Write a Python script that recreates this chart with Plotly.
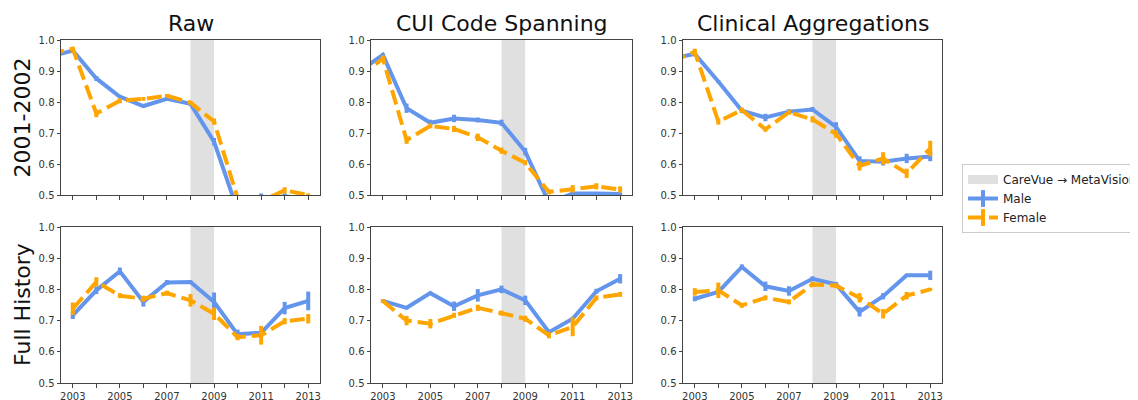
import plotly.graph_objects as go

# ---------------- data ----------------
years_top = [2002, 2003, 2004, 2005, 2006, 2007, 2008, 2009, 2010, 2011, 2012, 2013]
years_bot = [2003, 2004, 2005, 2006, 2007, 2008, 2009, 2010, 2011, 2012, 2013]

col_titles = ["Raw", "CUI Code Spanning", "Clinical Aggregations"]
row_titles = ["2001-2002", "Full History"]
tick_years = [2003, 2004, 2005, 2006, 2007, 2008, 2009, 2010, 2011, 2012, 2013]
tick_text = ["2003", "", "2005", "", "2007", "", "2009", "", "2011", "", "2013"]
y_ticks = [0.5, 0.6, 0.7, 0.8, 0.9, 1.0]
band_start, band_end = 2008, 2009
band_label = "CareVue → MetaVision"

# Top row (2001-2002 cohort)
raw_top_male = [0.945, 0.966, 0.876, 0.817, 0.787, 0.81, 0.794, 0.672, 0.45, 0.49, 0.495, 0.49]
raw_top_male_err = [0.005, 0.005, 0.008, 0.005, 0.005, 0.005, 0.005, 0.012, 0.01, 0.015, 0.01, 0.01]
raw_top_female = [0.955, 0.972, 0.763, 0.804, 0.81, 0.82, 0.798, 0.737, 0.49, 0.48, 0.515, 0.50]
raw_top_female_err = [0.005, 0.005, 0.012, 0.008, 0.006, 0.006, 0.006, 0.01, 0.01, 0.01, 0.01, 0.005]

cui_top_male = [0.898, 0.952, 0.78, 0.733, 0.747, 0.742, 0.733, 0.64, 0.475, 0.505, 0.505, 0.503]
cui_top_male_err = [0.005, 0.005, 0.015, 0.01, 0.012, 0.008, 0.01, 0.012, 0.01, 0.005, 0.005, 0.005]
cui_top_female = [0.88, 0.94, 0.677, 0.723, 0.713, 0.686, 0.643, 0.604, 0.51, 0.52, 0.528, 0.518]
cui_top_female_err = [0.005, 0.01, 0.012, 0.008, 0.01, 0.012, 0.01, 0.008, 0.008, 0.012, 0.01, 0.01]

clin_top_male = [0.94, 0.955, 0.866, 0.772, 0.75, 0.769, 0.776, 0.72, 0.61, 0.607, 0.618, 0.624]
clin_top_male_err = [0.005, 0.005, 0.005, 0.008, 0.012, 0.008, 0.008, 0.015, 0.015, 0.012, 0.015, 0.015]
clin_top_female = [0.93, 0.962, 0.737, 0.774, 0.712, 0.767, 0.744, 0.697, 0.594, 0.618, 0.57, 0.65]
clin_top_female_err = [0.005, 0.01, 0.01, 0.008, 0.008, 0.008, 0.01, 0.012, 0.015, 0.02, 0.015, 0.025]

# Bottom row (full history)
raw_bot_male = [0.717, 0.797, 0.858, 0.76, 0.822, 0.824, 0.76, 0.656, 0.661, 0.74, 0.763]
raw_bot_male_err = [0.012, 0.012, 0.012, 0.015, 0.008, 0.005, 0.03, 0.015, 0.008, 0.02, 0.03]
raw_bot_female = [0.738, 0.824, 0.78, 0.77, 0.788, 0.765, 0.722, 0.647, 0.653, 0.698, 0.706]
raw_bot_female_err = [0.02, 0.015, 0.008, 0.01, 0.008, 0.02, 0.02, 0.01, 0.03, 0.01, 0.015]

cui_bot_male = [0.763, 0.741, 0.788, 0.746, 0.781, 0.8, 0.765, 0.663, 0.706, 0.794, 0.834]
cui_bot_male_err = [0.005, 0.005, 0.005, 0.015, 0.02, 0.012, 0.015, 0.008, 0.005, 0.008, 0.015]
cui_bot_female = [0.763, 0.70, 0.69, 0.717, 0.741, 0.724, 0.706, 0.653, 0.68, 0.773, 0.784]
cui_bot_female_err = [0.005, 0.015, 0.015, 0.008, 0.01, 0.008, 0.01, 0.01, 0.03, 0.008, 0.008]

clin_bot_male = [0.77, 0.792, 0.872, 0.81, 0.795, 0.834, 0.816, 0.728, 0.778, 0.845, 0.845]
clin_bot_male_err = [0.008, 0.005, 0.008, 0.015, 0.015, 0.008, 0.008, 0.015, 0.01, 0.005, 0.015]
clin_bot_female = [0.792, 0.797, 0.749, 0.773, 0.76, 0.816, 0.812, 0.773, 0.722, 0.78, 0.80]
clin_bot_female_err = [0.012, 0.025, 0.008, 0.008, 0.008, 0.008, 0.008, 0.015, 0.015, 0.012, 0.005]

panels = [
    # (row, col, years, male, male_err, female, female_err)
    (0, 0, years_top, raw_top_male, raw_top_male_err, raw_top_female, raw_top_female_err),
    (0, 1, years_top, cui_top_male, cui_top_male_err, cui_top_female, cui_top_female_err),
    (0, 2, years_top, clin_top_male, clin_top_male_err, clin_top_female, clin_top_female_err),
    (1, 0, years_bot, raw_bot_male, raw_bot_male_err, raw_bot_female, raw_bot_female_err),
    (1, 1, years_bot, cui_bot_male, cui_bot_male_err, cui_bot_female, cui_bot_female_err),
    (1, 2, years_bot, clin_bot_male, clin_bot_male_err, clin_bot_female, clin_bot_female_err),
]

# ---------------- styling / layout ----------------
OFF = 8                      # default page body margin in the browser
W, H = 1138 - OFF, 400 - OFF
MALE_C = "#6495ED"
FEMALE_C = "#FFA500"
BAND_C = "#e0e0e0"
AX_C = "#444444"
FONT = "DejaVu Sans"


def px_x(p):
    return (p - OFF) / W


def px_y(p):
    return 1 - (p - OFF) / H


col_px = [(61, 320), (371, 632), (683, 942)]
row_px = [(40, 195), (227, 383)]

fig = go.Figure()
layout = dict(
    width=W, height=H,
    margin=dict(l=0, r=0, t=0, b=0, autoexpand=False),
    paper_bgcolor="white", plot_bgcolor="white",
    font=dict(family=FONT, size=10, color="#333333"),
    showlegend=True,
    legend=dict(x=px_x(962), y=px_y(164), xanchor="left", yanchor="top",
                bgcolor="white", bordercolor="#cccccc", borderwidth=1,
                font=dict(family=FONT, size=12, color="#222222"),
                tracegroupgap=0, itemwidth=30),
)
shapes = []
annotations = []

for i, (r, c, yrs, m, me, f, fe) in enumerate(panels):
    idx = i + 1
    xa = "x" if idx == 1 else f"x{idx}"
    ya = "y" if idx == 1 else f"y{idx}"
    xkey = "xaxis" if idx == 1 else f"xaxis{idx}"
    ykey = "yaxis" if idx == 1 else f"yaxis{idx}"
    x0, x1 = col_px[c]
    yt, yb = row_px[r]
    layout[xkey] = dict(
        domain=[px_x(x0), px_x(x1)], anchor=ya, range=[2002.5, 2013.5],
        tickvals=tick_years, ticktext=tick_text if r == 1 else [""] * len(tick_years),
        ticks="outside", ticklen=3.5, tickwidth=1, tickcolor=AX_C,
        showline=True, linecolor=AX_C, linewidth=1, mirror=True,
        showgrid=False, zeroline=False, tickfont=dict(size=10, color="#333333"),
    )
    layout[ykey] = dict(
        domain=[px_y(yb), px_y(yt)], anchor=xa, range=[0.5, 1.0],
        tickvals=y_ticks, tickformat=".1f",
        ticks="outside", ticklen=3.5, tickwidth=1, tickcolor=AX_C,
        showline=True, linecolor=AX_C, linewidth=1, mirror=True,
        showgrid=False, zeroline=False, tickfont=dict(size=10, color="#333333"),
    )
    shapes.append(dict(type="rect", xref=xa, yref=f"{ya} domain",
                       x0=band_start, x1=band_end, y0=0, y1=1,
                       fillcolor=BAND_C, line=dict(width=0), layer="below"))
    fig.add_trace(go.Scatter(
        x=yrs, y=m, mode="lines", xaxis=xa, yaxis=ya, showlegend=False,
        line=dict(color=MALE_C, width=4),
        error_y=dict(type="data", array=me, color=MALE_C, thickness=4, width=0),
    ))
    fig.add_trace(go.Scatter(
        x=yrs, y=f, mode="lines", xaxis=xa, yaxis=ya, showlegend=False,
        line=dict(color=FEMALE_C, width=4, dash="15px,6px"),
        error_y=dict(type="data", array=fe, color=FEMALE_C, thickness=4, width=0),
    ))
    if r == 0:
        annotations.append(dict(
            text=col_titles[c], xref="paper", yref="paper",
            x=px_x((x0 + x1) / 2), y=px_y(yt), xanchor="center", yanchor="bottom",
            yshift=2, showarrow=False, font=dict(size=22, color="#111111", family=FONT)))
    if c == 0:
        annotations.append(dict(
            text=row_titles[r], xref="paper", yref="paper",
            x=px_x(22), y=px_y((yt + yb) / 2), xanchor="center", yanchor="middle",
            textangle=-90, showarrow=False, font=dict(size=22, color="#111111", family=FONT)))

# legend proxies
fig.add_trace(go.Scatter(x=[None], y=[None], mode="lines", name=band_label,
                         line=dict(color=BAND_C, width=9), showlegend=True))
fig.add_trace(go.Scatter(x=[None], y=[None], mode="lines+markers", name="Male",
                         line=dict(color=MALE_C, width=4),
                         marker=dict(symbol="line-ns", size=12,
                                     line=dict(color=MALE_C, width=4)),
                         showlegend=True))
fig.add_trace(go.Scatter(x=[None], y=[None], mode="lines+markers", name="Female",
                         line=dict(color=FEMALE_C, width=4, dash="15px,6px"),
                         marker=dict(symbol="line-ns", size=12,
                                     line=dict(color=FEMALE_C, width=4)),
                         showlegend=True))

layout["shapes"] = shapes
layout["annotations"] = annotations
fig.update_layout(**layout)
fig.write_html("out.html")
